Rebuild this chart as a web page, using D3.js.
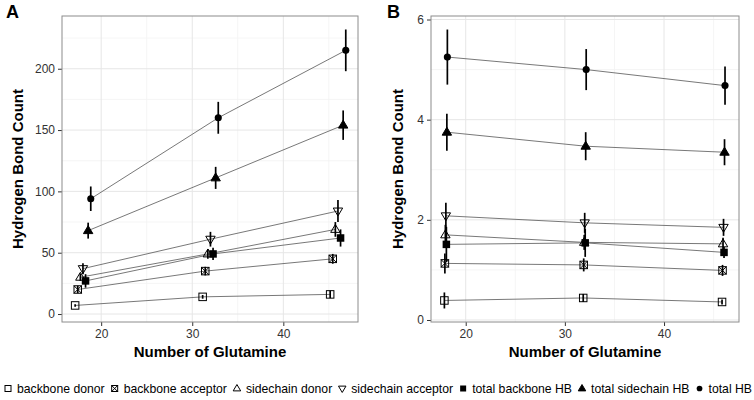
<!DOCTYPE html><html><head><meta charset="utf-8"><script src="https://d3js.org/d3.v7.min.js"></script>
<style>body{margin:0;background:#fff}text{font-family:"Liberation Sans",Arial,sans-serif}</style></head><body><svg id="c" width="754" height="400"></svg>
<script>
// ---------- data ----------
const glutamine = [18, 32, 46];
const seriesNames = ["backbone donor","backbone acceptor","sidechain donor","sidechain acceptor","total backbone HB","total sidechain HB","total HB"];
const seriesShapes = ["sq","sqx","triUp","triDown","sqFill","triFill","circle"];

// Panel A: counts
const backboneDonorA     = [7, 14, 16];     const backboneDonorAErr     = [1, 1.5, 3];
const backboneAcceptorA  = [20, 35, 45];    const backboneAcceptorAErr  = [3, 3.5, 4];
const sidechainDonorA    = [30, 49, 69];    const sidechainDonorAErr    = [3, 4, 6];
const sidechainAcceptorA = [37, 61, 84];    const sidechainAcceptorAErr = [4.5, 6, 9];
const totalBackboneA     = [27, 49, 62];    const totalBackboneAErr     = [5.5, 5, 7];
const totalSidechainA    = [68, 111, 154];  const totalSidechainAErr    = [6.5, 9, 12];
const totalHBA           = [94, 160, 215];  const totalHBAErr           = [10, 13, 17];

// Panel B: per-residue counts
const backboneDonorB     = [0.39, 0.44, 0.36]; const backboneDonorBErr     = [0.16, 0.08, 0.05];
const backboneAcceptorB  = [1.13, 1.10, 0.99]; const backboneAcceptorBErr  = [0.2, 0.13, 0.11];
const sidechainDonorB    = [1.70, 1.55, 1.52]; const sidechainDonorBErr    = [0.2, 0.15, 0.12];
const sidechainAcceptorB = [2.08, 1.94, 1.85]; const sidechainAcceptorBErr = [0.26, 0.2, 0.17];
const totalBackboneB     = [1.51, 1.54, 1.35]; const totalBackboneBErr     = [0.35, 0.28, 0.11];
const totalSidechainB    = [3.75, 3.47, 3.35]; const totalSidechainBErr    = [0.37, 0.28, 0.26];
const totalHBB           = [5.25, 5.00, 4.68]; const totalHBBErr           = [0.55, 0.41, 0.38];

const xTicks = [20, 30, 40];
const yTicksA = [0, 50, 100, 150, 200];
const yTicksB = [0, 2, 4, 6];

const valuesA = [backboneDonorA, backboneAcceptorA, sidechainDonorA, sidechainAcceptorA, totalBackboneA, totalSidechainA, totalHBA];
const errsA = [backboneDonorAErr, backboneAcceptorAErr, sidechainDonorAErr, sidechainAcceptorAErr, totalBackboneAErr, totalSidechainAErr, totalHBAErr];
const valuesB = [backboneDonorB, backboneAcceptorB, sidechainDonorB, sidechainAcceptorB, totalBackboneB, totalSidechainB, totalHBB];
const errsB = [backboneDonorBErr, backboneAcceptorBErr, sidechainDonorBErr, sidechainAcceptorBErr, totalBackboneBErr, totalSidechainBErr, totalHBBErr];

// ---------- drawing ----------
const svg = d3.select('#c');
svg.append('rect').attr('width',754).attr('height',400).attr('fill','#fff');

function drawShape(g, shape, s) {
  const h = s/2;
  if (shape === 'sq' || shape === 'sqx') {
    g.append('rect').attr('x',-h).attr('y',-h).attr('width',s).attr('height',s).attr('fill','none').attr('stroke','#000').attr('stroke-width',1);
    if (shape === 'sqx') {
      g.append('path').attr('d',`M${-h},${-h}L${h},${h}M${h},${-h}L${-h},${h}`).attr('stroke','#000').attr('stroke-width',1);
    }
  } else if (shape === 'triUp' || shape === 'triFill') {
    const r = s*0.66;
    g.append('path').attr('d',`M0,${-r}L${r*0.95},${r*0.6}L${-r*0.95},${r*0.6}Z`)
      .attr('fill', shape==='triFill' ? '#000' : 'none').attr('stroke','#000').attr('stroke-width',1);
  } else if (shape === 'triDown') {
    const r = s*0.66;
    g.append('path').attr('d',`M0,${r}L${r*0.95},${-r*0.6}L${-r*0.95},${-r*0.6}Z`)
      .attr('fill','none').attr('stroke','#000').attr('stroke-width',1);
  } else if (shape === 'sqFill') {
    g.append('rect').attr('x',-h).attr('y',-h).attr('width',s).attr('height',s).attr('fill','#000');
  } else if (shape === 'circle') {
    g.append('circle').attr('r',h*0.95).attr('fill','#000');
  }
}

function panel(opts) {
  const {left, right, top, bottom, xDomain, yDomain, yTicks, yMinor, xMinor, values, errs, dodge, label, labelX, yTitleX} = opts;
  const x = d3.scaleLinear().domain(xDomain).range([left, right]);
  const y = d3.scaleLinear().domain(yDomain).range([bottom, top]);
  const g = svg.append('g');
  g.append('rect').attr('x',left).attr('y',top).attr('width',right-left).attr('height',bottom-top).attr('fill','#fff');
  xMinor.forEach(v => g.append('line').attr('x1',x(v)).attr('x2',x(v)).attr('y1',top).attr('y2',bottom).attr('stroke','#f3f3f3').attr('stroke-width',0.8));
  yMinor.forEach(v => g.append('line').attr('y1',y(v)).attr('y2',y(v)).attr('x1',left).attr('x2',right).attr('stroke','#f3f3f3').attr('stroke-width',0.8));
  xTicks.forEach(v => g.append('line').attr('x1',x(v)).attr('x2',x(v)).attr('y1',top).attr('y2',bottom).attr('stroke','#e6e6e6').attr('stroke-width',1));
  yTicks.forEach(v => g.append('line').attr('y1',y(v)).attr('y2',y(v)).attr('x1',left).attr('x2',right).attr('stroke','#e6e6e6').attr('stroke-width',1));
  const fmt = d3.format('d');
  const xa = g.append('g').attr('transform',`translate(0,${bottom})`).call(d3.axisBottom(x).tickValues(xTicks).tickFormat(fmt).tickSize(4).tickSizeOuter(0).tickPadding(3));
  const ya = g.append('g').attr('transform',`translate(${left},0)`).call(d3.axisLeft(y).tickValues(yTicks).tickFormat(fmt).tickSize(4).tickSizeOuter(0).tickPadding(3));
  [xa, ya].forEach(a => {
    a.select('.domain').remove();
    a.selectAll('line').attr('stroke','#333').attr('stroke-width',1);
    a.selectAll('text').attr('fill','#333').style('font-size','12px').style('font-family','"Liberation Sans",Arial,sans-serif');
  });
  g.append('rect').attr('x',left).attr('y',top).attr('width',right-left).attr('height',bottom-top).attr('fill','none').attr('stroke','#8c8c8c').attr('stroke-width',1);
  const n = values.length;
  const off = i => (i - (n-1)/2) * dodge / n;
  values.forEach((vals, i) => {
    const line = d3.line().x((d,j) => x(glutamine[j] + off(i))).y(d => y(d));
    g.append('path').attr('d', line(vals)).attr('fill','none').attr('stroke','#555').attr('stroke-width',0.8);
  });
  values.forEach((vals, i) => {
    vals.forEach((v, j) => {
      const e = errs[i][j];
      g.append('line').attr('x1',x(glutamine[j]+off(i))).attr('x2',x(glutamine[j]+off(i)))
        .attr('y1',y(v-e)).attr('y2',y(v+e)).attr('stroke','#000').attr('stroke-width',1.7);
    });
  });
  values.forEach((vals, i) => {
    vals.forEach((v, j) => {
      const pg = g.append('g').attr('transform',`translate(${x(glutamine[j]+off(i))},${y(v)})`);
      drawShape(pg, seriesShapes[i], 7.5);
    });
  });
  g.append('text').attr('x',(left+right)/2).attr('y',357).attr('text-anchor','middle')
    .style('font-size','15px').style('font-weight','bold').attr('fill','#000').text('Number of Glutamine');
  g.append('text').attr('transform',`translate(${yTitleX},${(top+bottom)/2}) rotate(-90)`).attr('text-anchor','middle')
    .style('font-size','15px').style('font-weight','bold').attr('fill','#000').text('Hydrogen Bond Count');
  g.append('text').attr('x',labelX).attr('y',18).style('font-size','18px').style('font-weight','bold').attr('fill','#000').text(label);
}

panel({left:62, right:358, top:16, bottom:322, xDomain:[15.7,48.2], yDomain:[-6.5,243],
  yTicks:yTicksA, yMinor:[25,75,125,175,225], xMinor:[25,35,45], values:valuesA, errs:errsA, dodge:2,
  label:'A', labelX:6, yTitleX:23});
panel({left:431, right:739, top:16, bottom:322, xDomain:[16.5,47.56], yDomain:[-0.04,6.07],
  yTicks:yTicksB, yMinor:[1,3,5], xMinor:[25,35,45], values:valuesB, errs:errsB, dodge:0.35,
  label:'B', labelX:387, yTitleX:403});

// ---------- legend ----------
const lg = svg.append('g');
const symW = 8, gapSym = 5, gapItem = 6;
const legY = 389;
const probe = lg.append('g');
const widths = seriesNames.map(nm => {
  const t = probe.append('text').style('font-size','12px').text(nm);
  const w = t.node().getComputedTextLength(); t.remove(); return w;
});
probe.remove();
const avail = 748 - seriesNames.length*(symW+gapSym) - (seriesNames.length-1)*gapItem;
const fs = 12 * avail / d3.sum(widths);
let cx = 4;
seriesNames.forEach((nm, i) => {
  const sg = lg.append('g').attr('transform',`translate(${cx+symW/2},${legY-0.5})`);
  drawShape(sg, seriesShapes[i], 6);
  const tx = cx + symW + gapSym;
  lg.append('text').attr('x',tx).attr('y',legY).attr('dy','0.35em').style('font-size',fs+'px').attr('fill','#000').text(nm);
  cx = tx + widths[i]*fs/12 + gapItem;
});
</script></body></html>
